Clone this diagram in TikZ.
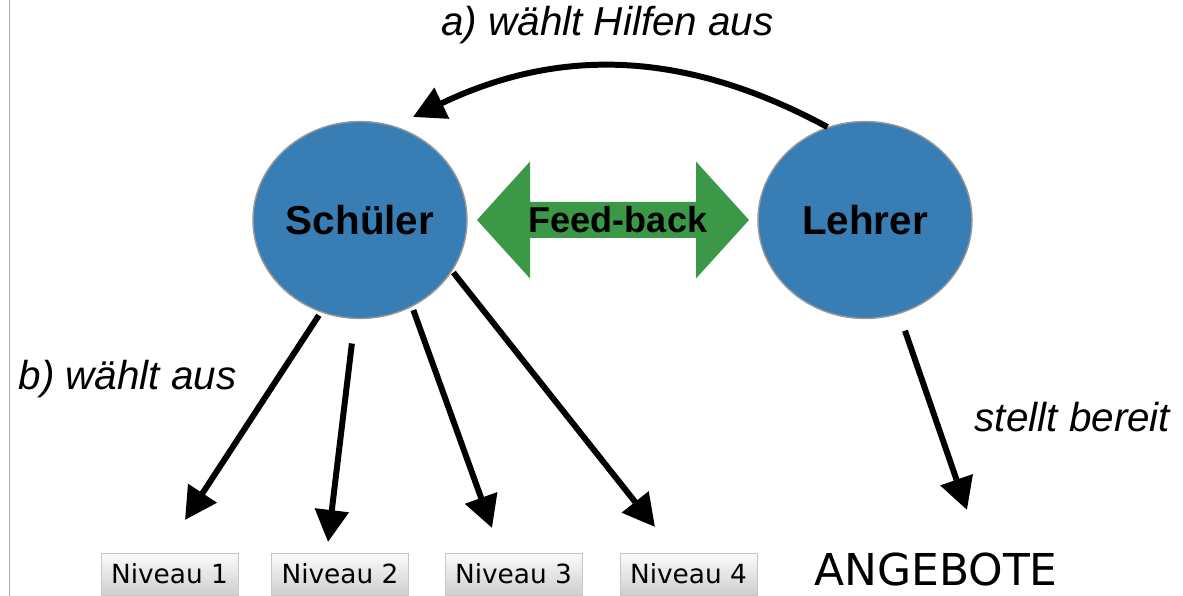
\documentclass[tikz,border=0pt]{standalone}
\usepackage{fontspec}
\setmainfont{Liberation Sans}
\newfontfamily\dejavu{DejaVu Sans}
\usepackage{tikz}
\usetikzlibrary{arrows.meta, shapes.geometric}
\definecolor{kreisblau}{RGB}{56,126,181}
\definecolor{pfeilgruen}{RGB}{58,152,70}

\tikzset{
	rolle/.style = {ellipse, fill = kreisblau, draw = gray!80, line width = 0.8pt, minimum width = 4.28cm, minimum height = 3.94cm, inner sep = 0pt, font = \fontsize{23}{27}\selectfont\bfseries},
	niveau/.style = {rectangle, top color = gray!3, bottom color = gray!38, draw = gray!45, line width = 0.4pt, minimum width = 2.74cm, minimum height = 0.84cm, inner sep = 0pt, font = \dejavu\fontsize{15}{18}\selectfont},
	kreide/.style = {line width = 3.4pt, black, -{Triangle[length = 0.64cm, width = 0.66cm]}},
	notiz/.style = {anchor = base, inner sep = 0pt, font = \fontsize{23}{27}\selectfont\itshape},
}

\begin{document}
\begin{tikzpicture}[scale = 1]

	\useasboundingbox (0, 0) rectangle (23.66, 11.92);
	\draw[solid, gray!70, line width = 0.8pt] (0.19, 0) -- (0.19, 11.92);

	% Schueler und Lehrer
	\node[rolle] (schueler) at (7.2, 7.52) {Schüler};
	\node[rolle] (lehrer) at (17.3, 7.52) {Lehrer};

	% Feed-back
	\coordinate (fb) at (12.26, 7.52);
	\fill[pfeilgruen] (fb) ++(-2.72, 0) -- ++(1.06, 1.17) -- ++(0, -0.81) -- ++(3.32, 0) -- ++(0, 0.81) -- ++(1.06, -1.17) -- ++(-1.06, -1.17) -- ++(0, 0.81) -- ++(-3.32, 0) -- ++(0, -0.81) -- cycle;
	\node[inner sep = 0pt, font = \fontsize{20.5}{24}\selectfont\bfseries] (fbtext) at (12.36, 7.52) {Feed-back};

	% Niveaus
	\node[niveau] (niv1) at (3.39, 0.44) {Niveau 1};
	\node[niveau] (niv2) at (6.80, 0.44) {Niveau 2};
	\node[niveau] (niv3) at (10.27, 0.44) {Niveau 3};
	\node[niveau] (niv4) at (13.77, 0.44) {Niveau 4};
	\node[anchor = base, inner sep = 0pt, font = \dejavu\fontsize{25}{30}\selectfont] (angebote) at (18.72, 0.2) {ANGEBOTE};

	% Pfeilspitzen
	\coordinate (tip1) at (3.70, 1.52);
	\coordinate (tip2) at (6.56, 1.08);
	\coordinate (tip3) at (9.84, 1.36);
	\coordinate (tip4) at (13.10, 1.38);
	\coordinate (tipang) at (19.34, 1.72);
	\coordinate (tipa) at (8.26, 9.58);

	\draw[kreide, shorten <= 2pt] (schueler.247) -- (tip1);
	\draw[kreide, shorten <= 14pt] (schueler.267) -- (tip2);
	\draw[kreide, shorten <= 2pt] (schueler.301) -- (tip3);
	\draw[kreide, shorten <= 1pt] (schueler.331) -- (tip4);
	\draw[kreide, shorten <= 10pt] (lehrer.290) -- (tipang);
	\draw[kreide] (lehrer.112) to[bend right = 27] (tipa);

	% Beschriftungen
	\node[notiz] (lblA) at (12.15, 11.2) {a) wählt Hilfen aus};
	\node[notiz] (lblB) at (2.55, 4.12) {b) wählt aus};
	\node[notiz] (lblC) at (21.45, 3.28) {stellt bereit};

\end{tikzpicture}
\end{document}
